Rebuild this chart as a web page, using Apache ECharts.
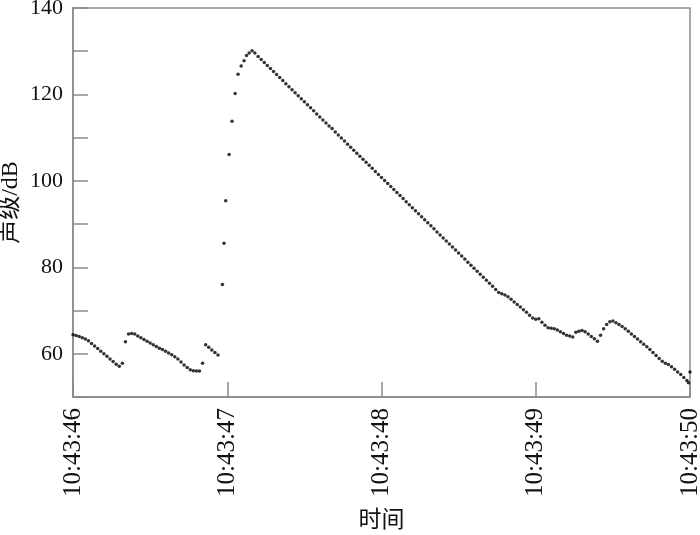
<!DOCTYPE html>
<html>
<head>
<meta charset="utf-8">
<script src="https://cdn.jsdelivr.net/npm/echarts@6/dist/echarts.min.js"></script>
<style>
html,body{margin:0;padding:0;background:#fff;}
#chart{width:700px;height:535px;}
</style>
</head>
<body>
<div id="chart"></div>
<script>
// Time tick labels (seconds after 10:43:46)
const timeTickLabels = ['10:43:46', '10:43:47', '10:43:48', '10:43:49', '10:43:50'];
const xAxisName = '时间';
const yAxisName = '声级/dB';

// Sample period of the recorder (s)
const samplePeriod = 0.02;

// Segment before the impulse: starts at 0.00 s, one value per sample
const preStart = 0.00;
const preLevels = [
  64.4, 64.2, 64.0, 63.7, 63.4, 63.0, 62.4, 61.8, 61.2, 60.6,
  60.0, 59.4, 58.8, 58.2, 57.6, 57.1, 57.8, 62.8, 64.6, 64.7,
  64.6, 64.1, 63.7, 63.3, 62.9, 62.5, 62.1, 61.7, 61.3, 61.0,
  60.6, 60.2, 59.8, 59.3, 58.8, 58.1, 57.4, 56.8, 56.3, 56.1,
  56.0, 56.0, 57.8, 62.1, 61.5, 60.9, 60.3, 59.7
];

// Rise of the impulse: [time s, level dB]
const risePoints = [
  [0.969, 76.0], [0.979, 85.6], [0.990, 95.4], [1.012, 106.1], [1.031, 113.8],
  [1.051, 120.2], [1.070, 124.7], [1.090, 126.6], [1.109, 127.8], [1.125, 129.0],
  [1.142, 129.6], [1.161, 130.1], [1.179, 129.6]
];

// Decay segment: starts at 1.20 s, one value per sample
const decayStart = 1.20;
const decayLevels = [
  128.8, 128.1, 127.4, 126.7, 126.0, 125.3, 124.6, 123.9, 123.2, 122.5,
  121.8, 121.1, 120.4, 119.7, 119.0, 118.3, 117.6, 116.9, 116.2, 115.5,
  114.8, 114.1, 113.4, 112.7, 112.1, 111.3, 110.6, 109.9, 109.2, 108.5,
  107.8, 107.1, 106.4, 105.7, 105.0, 104.3, 103.6, 102.9, 102.2, 101.5,
  100.8, 100.1, 99.4, 98.7, 98.0, 97.3, 96.6, 95.9, 95.2, 94.5,
  93.8, 93.1, 92.4, 91.7, 91.0, 90.3, 89.6, 88.9, 88.2, 87.5,
  86.8, 86.1, 85.4, 84.7, 84.0, 83.3, 82.6, 81.9, 81.2, 80.5,
  79.8, 79.1, 78.4, 77.7, 77.0, 76.3, 75.6, 74.9, 74.2, 73.9,
  73.6, 73.2, 72.6, 72.0, 71.4, 70.8, 70.2, 69.6, 68.9, 68.3,
  68.0, 68.1, 67.3, 66.6, 66.0, 65.9, 65.8, 65.5, 65.1, 64.7,
  64.3, 64.1, 63.9, 65.0, 65.2, 65.4, 65.1, 64.6, 64.0, 63.5,
  62.9, 64.3, 65.8, 66.8, 67.4, 67.6, 67.2, 66.8, 66.3, 65.8,
  65.2, 64.6, 64.0, 63.4, 62.8, 62.2, 61.6, 61.0, 60.3, 59.6,
  58.9, 58.3, 57.8, 57.5, 57.0, 56.4, 55.8, 55.2, 54.5, 53.8
];

// Last samples at the end of the record: [time s, level dB]
const endPoints = [[3.99, 53.3], [4.00, 55.8]];

function segment(start, levels) {
  return levels.map((v, k) => [+(start + k * samplePeriod).toFixed(3), v]);
}

const data = []
  .concat(segment(preStart, preLevels))
  .concat(risePoints)
  .concat(segment(decayStart, decayLevels))
  .concat(endPoints);

const chart = echarts.init(document.getElementById('chart'), null, {renderer: 'canvas'});
const frame = '#8a8a8a';
const serif = "'Liberation Serif', 'Noto Sans CJK SC', serif";

chart.setOption({
  animation: false,
  backgroundColor: '#fff',
  grid: {
    left: 73, right: 10, top: 8, bottom: 138,
    containLabel: false,
    outerBoundsMode: 'none',
    show: true, borderColor: frame, borderWidth: 1.5, backgroundColor: 'transparent'
  },
  xAxis: {
    type: 'value',
    min: 0, max: 4, interval: 1,
    name: xAxisName,
    nameLocation: 'middle',
    nameGap: 112,
    nameMoveOverlap: false,
    nameTextStyle: {fontFamily: serif, fontSize: 23, color: '#111'},
    axisLine: {show: true, lineStyle: {color: frame, width: 1.5}},
    axisTick: {show: true, inside: true, length: 15, lineStyle: {color: frame, width: 1.5}},
    axisLabel: {
      rotate: 90, margin: 11,
      fontFamily: serif, fontSize: 25, color: '#111',
      formatter: v => timeTickLabels[Math.round(v)] || ''
    },
    splitLine: {show: false}
  },
  yAxis: {
    type: 'value',
    min: 50, max: 140, interval: 10,
    name: yAxisName,
    nameLocation: 'middle',
    nameGap: 50,
    nameMoveOverlap: false,
    nameRotate: 90,
    nameTextStyle: {fontFamily: serif, fontSize: 24, color: '#111'},
    axisLine: {show: true, lineStyle: {color: frame, width: 1.5}},
    axisTick: {show: true, inside: true, length: 15, lineStyle: {color: frame, width: 1.5}},
    axisLabel: {
      margin: 10,
      fontFamily: serif, fontSize: 22, color: '#111',
      formatter: v => (v >= 60 && v % 20 === 0) ? String(v) : ''
    },
    splitLine: {show: false}
  },
  series: [{
    type: 'scatter',
    data: data,
    symbol: 'circle',
    symbolSize: 3.5,
    itemStyle: {color: '#000'},
    clip: false
  }]
});
</script>
</body>
</html>
